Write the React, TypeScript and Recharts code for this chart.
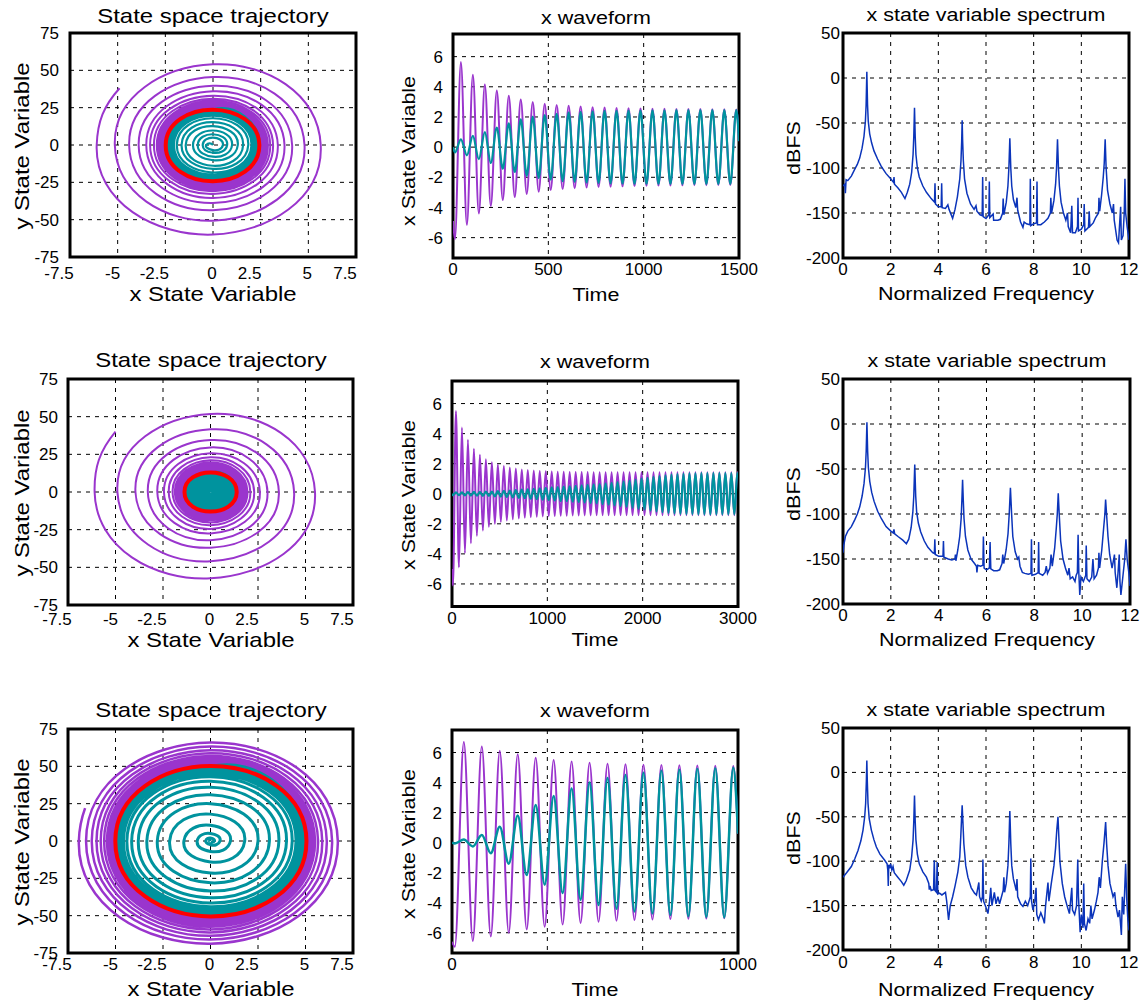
import React from 'react';
import { ComposedChart, Line, XAxis, YAxis, CartesianGrid, ReferenceArea } from 'recharts';

const FONT = '"Liberation Sans", Arial, Helvetica, sans-serif';
const PURPLE = '#9A35CD';
const TEAL = '#00939E';
const RED = '#FF0000';
const BLUE = '#0B34BA';

// one cycle is ~62.8 time units, so extremes come every 31.4
const HALF_PERIOD = 31.4;
const FIRST_EXTREME = 10;

// ---- axis ticks ----
const phaseXTicks = [-7.5, -5, -2.5, 0, 2.5, 5, 7.5];
const phaseYTicks = [-75, -50, -25, 0, 25, 50, 75];
const waveYTicks = [-6, -4, -2, 0, 2, 4, 6];
const wave1Ticks = [0, 500, 1000, 1500];
const wave2Ticks = [0, 1000, 2000, 3000];
const wave3Ticks = [0, 1000 / 3, 2000 / 3, 1000];
const specXTicks = [0, 2, 4, 6, 8, 10, 12];
const specYTicks = [-200, -150, -100, -50, 0, 50];

// ---- row 1: x extremes (trough, peak, ...) and matching y extremes ----
const r1PurpleStart = [-4.9, 38];
const r1PurpleX = [
  -6.1, 5.65, -5.15, 4.8, -4.4, 4.15, -3.9, 3.75, -3.5, 3.4, -3.3, 3.15, -3.1, 3.0, -2.95, 2.88,
  -2.85, 2.8, -2.78, 2.74, -2.72, 2.69, -2.68, 2.65, -2.64, 2.62, -2.62, 2.6, -2.6, 2.58, -2.58, 2.56,
  -2.56, 2.55, -2.55, 2.54, -2.54, 2.53, -2.53, 2.52, -2.52, 2.52, -2.52, 2.51, -2.51, 2.51, -2.51, 2.5,
];
const r1PurpleY = [
  -60, 54, -50.7, 45.5, -43.7, 39.7, -38.8, 36, -35.5, 33, -32.8, 31, -31, 29.6, -29.8, 28.6,
  -29, 28, -28.4, 27.5, -27.9, 27.1, -27.5, 26.8, -27.2, 26.5, -26.9, 26.3, -26.7, 26.1, -26.5, 25.9,
  -26.3, 25.7, -26.1, 25.6, -26, 25.5, -25.9, 25.4, -25.8, 25.3, -25.7, 25.2, -25.6, 25.2, -25.5, 25.1,
];
const r1TealX = [
  -0.35, 0.52, -0.54, 0.74, -0.8, 1.0, -1.05, 1.3, -1.43, 1.58, -1.65, 1.85, -1.9, 2.02, -2.05, 2.12,
  -2.15, 2.2, -2.25, 2.3, -2.3, 2.34, -2.35, 2.37, -2.38, 2.4, -2.4, 2.41, -2.42, 2.42, -2.43, 2.43,
  -2.43, 2.44, -2.44, 2.44, -2.44, 2.45, -2.45, 2.45, -2.45, 2.45, -2.45, 2.45, -2.45, 2.45, -2.45, 2.45,
];
const r1TealY = [
  -3.4, 5.0, -5.2, 7.2, -7.8, 9.7, -10.2, 12.6, -13.9, 15.3, -16.0, 17.9, -18.4, 19.6, -19.9, 20.6,
  -20.9, 21.3, -21.8, 22.3, -22.3, 22.7, -22.8, 23.0, -23.1, 23.3, -23.3, 23.4, -23.5, 23.5, -23.6, 23.6,
  -23.6, 23.7, -23.7, 23.7, -23.7, 23.8, -23.8, 23.8, -23.8, 23.8, -23.8, 23.8, -23.8, 23.8, -23.8, 23.8,
];
const r1Limit = [2.43, 23.6, -2.48, -24.3]; // right, top, left, bottom
const r1WaveEnds = [0.4, 0.4]; // purple, teal at t = 1500

// ---- row 2 ----
const r2PurpleStart = [-5.0, 40];
const r2PurpleX = [
  -6.1, 5.5, -4.9, 4.4, -3.95, 3.6, -3.3, 3.0, -2.8, 2.6, -2.45, 2.3, -2.2, 2.1, -2.0, 1.95,
  -1.88, 1.85, -1.78, 1.75, -1.7, 1.68, -1.64, 1.62, -1.6, 1.58, -1.56, 1.55, -1.53, 1.52, -1.51, 1.5,
  -1.49, 1.48, -1.48, 1.47, -1.47, 1.46, -1.46, 1.45, -1.45, 1.45, -1.45, 1.44, -1.44, 1.44, -1.44, 1.43,
  -1.43, 1.43, -1.43, 1.43, -1.43, 1.43, -1.43, 1.43, -1.43, 1.43, -1.43, 1.43, -1.43, 1.43, -1.43, 1.43,
  -1.43, 1.43, -1.43, 1.43, -1.43, 1.43, -1.43, 1.43, -1.43, 1.43, -1.43, 1.43, -1.43, 1.43, -1.43, 1.43,
  -1.43, 1.43, -1.43, 1.43, -1.43, 1.43, -1.43, 1.43, -1.43, 1.43, -1.43, 1.43, -1.43, 1.43, -1.43, 1.43,
];
const r2PurpleY = [
  -57.3, 51.8, -46, 41.6, -37, 34.5, -32, 29.6, -27.5, 25.7, -24.5, 23, -22, 21, -20.2, 19.5,
  -18.8, 18.2, -17.6, 17.2, -16.8, 16.4, -16.1, 15.8, -15.6, 15.4, -15.2, 15, -14.9, 14.8, -14.7, 14.6,
  -14.5, 14.4, -14.4, 14.3, -14.3, 14.2, -14.2, 14.1, -14.1, 14.1, -14.1, 14, -14, 14, -14, 14,
  -14, 14, -14, 14, -14, 14, -14, 14, -14, 14, -14, 14, -14, 14, -14, 14,
  -14, 14, -14, 14, -14, 14, -14, 14, -14, 14, -14, 14, -14, 14, -14, 14,
  -14, 14, -14, 14, -14, 14, -14, 14, -14, 14, -14, 14, -14, 14, -14, 14,
];
// teal grows slowly: one x amplitude and one y amplitude per cycle
const r2TealAmpX = [
  0.1, 0.1, 0.11, 0.12, 0.13, 0.14, 0.15, 0.17, 0.19, 0.21,
  0.24, 0.27, 0.3, 0.33, 0.36, 0.39, 0.42, 0.45, 0.48, 0.5,
  0.53, 0.56, 0.59, 0.62, 0.65, 0.69, 0.73, 0.78, 0.83, 0.88,
  0.94, 1.0, 1.06, 1.12, 1.18, 1.23, 1.28, 1.31, 1.33, 1.35,
  1.36, 1.37, 1.37, 1.37, 1.37, 1.37, 1.37, 1.37,
];
const r2TealAmpY = [
  0.94, 0.94, 1.03, 1.13, 1.22, 1.32, 1.41, 1.6, 1.79, 1.97,
  2.26, 2.54, 2.82, 3.1, 3.38, 3.67, 3.95, 4.23, 4.51, 4.7,
  4.98, 5.26, 5.55, 5.83, 6.11, 6.49, 6.86, 7.33, 7.8, 8.27,
  8.84, 9.4, 9.96, 10.5, 11.1, 11.6, 12.0, 12.3, 12.5, 12.7,
  12.8, 12.9, 12.9, 12.9, 12.9, 12.9, 12.9, 12.9,
];
const r2Limit = [1.38, 13, -1.37, -13];
const r2WaveEnds = [1.1, 1.1];

// ---- row 3 ----
const r3PurpleStart = [-6.6, 22];
const r3PurpleX = [
  -6.93, 6.7, -6.55, 6.4, -6.25, 6.12, -6.0, 5.88, -5.78, 5.66, -5.6, 5.5, -5.45, 5.4, -5.35, 5.32,
  -5.27, 5.26, -5.2, 5.22, -5.15, 5.19, -5.12, 5.17, -5.09, 5.15, -5.07, 5.13, -5.05, 5.12, -5.04, 5.11,
];
const r3PurpleY = [
  -68.8, 65.9, -66, 63.2, -63.5, 60.8, -61.2, 58.8, -59.2, 57, -57.5, 55.6, -56.2, 54.6, -55.2, 53.8,
  -54.3, 53.2, -53.6, 52.7, -53.1, 52.3, -52.7, 52.0, -52.4, 51.8, -52.2, 51.6, -52.0, 51.5, -51.9, 51.4,
];
const r3TealX = [
  -0.05, 0.2, -0.25, 0.5, -0.7, 1.05, -1.4, 1.8, -2.15, 2.5, -2.8, 3.1, -3.35, 3.6, -3.8, 4.0,
  -4.15, 4.3, -4.4, 4.5, -4.58, 4.65, -4.72, 4.78, -4.82, 4.86, -4.9, 4.92, -4.95, 4.96, -4.98, 4.98,
];
const r3TealY = [
  -0.5, 2, -2.5, 5, -7, 10.5, -14, 18, -21.5, 25, -28, 31, -33.5, 36, -38, 40,
  -41.5, 43, -44, 45, -45.8, 46.5, -47.2, 47.8, -48.2, 48.6, -49, 49.2, -49.5, 49.6, -49.8, 49.8,
];
const r3Limit = [5.05, 50.3, -5.01, -50.5];
const r3WaveEnds = [0.6, 0.6];

// ---- spectra: [normalized frequency, dBFS] ----
const spec1 = [
  [0, -120], [0.08, -118], [0.1, -128], [0.13, -113], [0.2, -114], [0.35, -109], [0.5, -101], [0.6, -96],
  [0.7, -89], [0.8, -78], [0.88, -65], [0.94, -48], [0.97, -30], [1.0, 7], [1.03, -30], [1.06, -48],
  [1.12, -62], [1.2, -72], [1.3, -81], [1.45, -90], [1.6, -98], [1.8, -106], [2.0, -112], [2.12, -116],
  [2.14, -110], [2.16, -118], [2.3, -122], [2.45, -127], [2.6, -134], [2.7, -127], [2.8, -118], [2.88, -105],
  [2.94, -85], [2.97, -65], [3.0, -33], [3.03, -65], [3.06, -85], [3.12, -100], [3.2, -110], [3.35, -120],
  [3.5, -127], [3.7, -134], [3.84, -138], [3.86, -117], [3.88, -140], [4.0, -143], [4.12, -143], [4.14, -117],
  [4.16, -144], [4.3, -145], [4.4, -141], [4.45, -146], [4.6, -156], [4.7, -146], [4.8, -132], [4.9, -112],
  [4.95, -92], [4.98, -70], [5.0, -47], [5.02, -70], [5.05, -92], [5.1, -112], [5.2, -128], [5.35, -140],
  [5.5, -146], [5.58, -142], [5.62, -148], [5.75, -152], [5.84, -153], [5.86, -110], [5.88, -154], [6.0, -156],
  [6.12, -152], [6.14, -115], [6.16, -155], [6.3, -151], [6.32, -158], [6.5, -158], [6.6, -157], [6.7, -150],
  [6.72, -134], [6.75, -152], [6.85, -138], [6.92, -120], [6.96, -100], [7.0, -67], [7.04, -100], [7.08, -120],
  [7.15, -135], [7.25, -144], [7.3, -133], [7.33, -147], [7.45, -160], [7.55, -166], [7.6, -160], [7.7, -162],
  [7.84, -163], [7.86, -112], [7.88, -164], [8.0, -162], [8.12, -161], [8.14, -115], [8.16, -163], [8.3, -163],
  [8.45, -160], [8.6, -156], [8.7, -150], [8.72, -133], [8.75, -150], [8.85, -136], [8.92, -118], [8.96, -100],
  [9.0, -68], [9.04, -100], [9.08, -120], [9.15, -138], [9.25, -150], [9.35, -158], [9.42, -150], [9.45, -165],
  [9.55, -172], [9.6, -142], [9.63, -172], [9.75, -172], [9.84, -165], [9.86, -133], [9.88, -170], [10.0, -168],
  [10.1, -163], [10.12, -140], [10.15, -170], [10.3, -166], [10.33, -148], [10.36, -165], [10.5, -161], [10.6, -155],
  [10.72, -150], [10.74, -133], [10.77, -148], [10.85, -130], [10.92, -110], [10.96, -95], [11.0, -68], [11.04, -100],
  [11.1, -125], [11.2, -140], [11.3, -150], [11.35, -140], [11.38, -158], [11.5, -180], [11.56, -183], [11.6, -165],
  [11.65, -143], [11.68, -180], [11.75, -175], [11.8, -150], [11.83, -112], [11.86, -150], [11.92, -165], [12.0, -180],
];
const spec2 = [
  [0, -143], [0.03, -135], [0.1, -125], [0.2, -119], [0.35, -114], [0.5, -106], [0.6, -100], [0.7, -92],
  [0.8, -80], [0.88, -66], [0.94, -48], [0.97, -30], [1.0, 2], [1.03, -30], [1.06, -48], [1.12, -64],
  [1.2, -76], [1.3, -86], [1.45, -97], [1.6, -105], [1.8, -114], [2.0, -119], [2.1, -121], [2.13, -117],
  [2.16, -122], [2.3, -125], [2.5, -129], [2.65, -133], [2.75, -128], [2.85, -115], [2.92, -98], [2.96, -80],
  [3.0, -45], [3.04, -80], [3.08, -98], [3.15, -110], [3.25, -120], [3.4, -130], [3.55, -137], [3.75, -143],
  [3.82, -144], [3.84, -128], [3.86, -145], [4.0, -147], [4.18, -147], [4.2, -130], [4.22, -148], [4.4, -150],
  [4.55, -151], [4.68, -150], [4.7, -145], [4.72, -152], [4.8, -140], [4.88, -125], [4.94, -105], [4.97, -85],
  [5.0, -62], [5.03, -85], [5.06, -105], [5.12, -125], [5.22, -140], [5.35, -150], [5.5, -155], [5.58, -158],
  [5.6, -165], [5.63, -157], [5.75, -158], [5.85, -157], [5.87, -125], [5.9, -160], [6.0, -162], [6.12, -160],
  [6.15, -131], [6.18, -161], [6.3, -163], [6.45, -163], [6.55, -162], [6.65, -155], [6.68, -145], [6.72, -155],
  [6.82, -140], [6.9, -122], [6.95, -100], [7.0, -71], [7.05, -100], [7.1, -125], [7.2, -142], [7.3, -150],
  [7.35, -148], [7.4, -158], [7.5, -165], [7.6, -166], [7.75, -167], [7.86, -166], [7.88, -128], [7.9, -168],
  [8.05, -167], [8.16, -165], [8.18, -131], [8.2, -166], [8.35, -168], [8.45, -165], [8.5, -158], [8.55, -166],
  [8.65, -160], [8.7, -145], [8.75, -158], [8.85, -138], [8.92, -115], [8.96, -100], [9.0, -77], [9.04, -100],
  [9.1, -130], [9.2, -150], [9.3, -160], [9.4, -168], [9.45, -160], [9.5, -172], [9.6, -170], [9.7, -175],
  [9.75, -168], [9.8, -165], [9.83, -123], [9.86, -165], [9.9, -190], [9.95, -170], [10.05, -175], [10.15, -168],
  [10.17, -135], [10.2, -172], [10.3, -175], [10.4, -170], [10.45, -150], [10.5, -172], [10.6, -168], [10.68, -160],
  [10.7, -143], [10.73, -160], [10.82, -140], [10.9, -115], [10.95, -100], [10.98, -84], [11.02, -100], [11.08, -125],
  [11.15, -145], [11.25, -160], [11.32, -150], [11.35, -145], [11.38, -165], [11.45, -182], [11.5, -165], [11.55, -145],
  [11.58, -175], [11.62, -190], [11.7, -170], [11.78, -150], [11.83, -128], [11.88, -150], [11.95, -165], [12.0, -180],
];
const spec3 = [
  [0, -118], [0.15, -113], [0.35, -106], [0.5, -97], [0.63, -88], [0.75, -77], [0.84, -65], [0.91, -50],
  [0.95, -35], [0.98, -10], [1.0, 13.5], [1.02, -10], [1.05, -35], [1.1, -52], [1.19, -65], [1.3, -76],
  [1.4, -84], [1.55, -92], [1.75, -99], [1.85, -103], [1.88, -110], [1.9, -128], [1.92, -104], [1.96, -108],
  [2.0, -103], [2.05, -110], [2.1, -106], [2.15, -113], [2.3, -118], [2.45, -123], [2.55, -127], [2.65, -122],
  [2.8, -110], [2.88, -95], [2.94, -76], [2.97, -55], [3.0, -26], [3.03, -55], [3.06, -76], [3.12, -92],
  [3.2, -103], [3.35, -112], [3.5, -118], [3.6, -125], [3.62, -132], [3.65, -128], [3.7, -133], [3.8, -132],
  [3.83, -99], [3.86, -133], [3.92, -135], [3.95, -101], [3.98, -137], [4.05, -136], [4.15, -138], [4.3, -135],
  [4.35, -145], [4.43, -166], [4.5, -150], [4.6, -140], [4.7, -128], [4.82, -112], [4.9, -95], [4.94, -73],
  [4.97, -55], [5.0, -37], [5.03, -55], [5.07, -80], [5.15, -105], [5.24, -118], [5.38, -130], [5.52, -136],
  [5.6, -138], [5.7, -124], [5.73, -140], [5.8, -145], [5.85, -140], [5.87, -98], [5.9, -145], [6.0, -152],
  [6.08, -159], [6.15, -145], [6.2, -130], [6.25, -150], [6.35, -135], [6.42, -148], [6.5, -140], [6.57, -148],
  [6.65, -140], [6.72, -133], [6.75, -118], [6.78, -135], [6.85, -125], [6.92, -105], [6.96, -80], [7.0, -43.5],
  [7.04, -80], [7.08, -105], [7.15, -120], [7.27, -133], [7.3, -120], [7.33, -140], [7.45, -148], [7.55, -151],
  [7.65, -145], [7.75, -150], [7.86, -140], [7.88, -97], [7.91, -145], [7.97, -155], [8.05, -145], [8.1, -130],
  [8.13, -160], [8.2, -166], [8.3, -158], [8.4, -165], [8.45, -170], [8.5, -150], [8.6, -124], [8.64, -145],
  [8.74, -125], [8.85, -105], [8.92, -85], [8.97, -65], [9.02, -50], [9.06, -75], [9.1, -100], [9.2, -125],
  [9.3, -140], [9.4, -150], [9.5, -159], [9.6, -130], [9.63, -155], [9.72, -160], [9.8, -150], [9.85, -98],
  [9.88, -140], [9.95, -180], [10.0, -160], [10.07, -175], [10.1, -125], [10.13, -170], [10.2, -178], [10.28, -165],
  [10.35, -170], [10.4, -150], [10.45, -165], [10.55, -155], [10.63, -145], [10.7, -135], [10.75, -118], [10.8, -130],
  [10.88, -100], [10.95, -80], [11.02, -56], [11.06, -80], [11.12, -105], [11.2, -125], [11.33, -140], [11.4, -135],
  [11.45, -150], [11.54, -163], [11.6, -155], [11.68, -183], [11.72, -140], [11.78, -160], [11.86, -103], [11.9, -140],
  [11.95, -165], [12.0, -178],
];

type Pt = { x: number; y: number };
type Box = [number, number, number, number];

const toPts = (pairs: number[][]): Pt[] => pairs.map(([x, y]) => ({ x, y }));
const mirror = (amps: number[]) => amps.flatMap((a) => [-a, a]);

// phase portrait: x extreme on the y = 0 line, then y extreme on x = 0, turn after turn
function spiral(start: number[], xs: number[], ys: number[]): Pt[] {
  const pts: Pt[] = [{ x: start[0], y: start[1] }];
  xs.forEach((x, k) => {
    pts.push({ x, y: 0 });
    pts.push({ x: 0, y: ys[k] });
  });
  return pts;
}

function limitCycle([right, top, left, bottom]: number[]): Pt[] {
  return [{ x: right, y: 0 }, { x: 0, y: top }, { x: left, y: 0 }, { x: 0, y: bottom }];
}

function wave(start: number, xs: number[], end: number, tEnd: number): Pt[] {
  return [
    { x: 0, y: start },
    ...xs.map((v, k) => ({ x: FIRST_EXTREME + k * HALF_PERIOD, y: v })),
    { x: tEnd, y: end },
  ];
}

// smooth curve through quarter-turn points (Bessel tangents, bezier handles),
// so each quarter comes out as a proper elliptic arc
const HANDLE = 0.39;
function orbitCurve(closed: boolean) {
  return (context: any) => {
    let pts: number[][] = [];
    const get = (i: number) => {
      const n = pts.length;
      return closed ? pts[((i % n) + n) % n] : pts[Math.max(0, Math.min(n - 1, i))];
    };
    const dist = (a: number[], b: number[]) => Math.hypot(b[0] - a[0], b[1] - a[1]);
    const unit = (a: number[], b: number[]) => {
      const d = dist(a, b) || 1;
      return [(b[0] - a[0]) / d, (b[1] - a[1]) / d];
    };
    const inner = (i: number) => {
      const p0 = get(i - 1);
      const p1 = get(i);
      const p2 = get(i + 1);
      const d0 = dist(p0, p1);
      const d1 = dist(p1, p2);
      const u0 = unit(p0, p1);
      const u1 = unit(p1, p2);
      const tx = u0[0] * d1 + u1[0] * d0;
      const ty = u0[1] * d1 + u1[1] * d0;
      const m = Math.hypot(tx, ty) || 1;
      return [tx / m, ty / m];
    };
    // open ends: mirror the neighbour's tangent about the chord, as on a circular arc
    const reflect = (t: number[], c: number[]) => {
      const k = 2 * (t[0] * c[0] + t[1] * c[1]);
      return [k * c[0] - t[0], k * c[1] - t[1]];
    };
    const tangent = (i: number) => {
      const n = pts.length;
      if (closed || n < 3 || (i > 0 && i < n - 1)) return inner(i);
      if (i === 0) return reflect(inner(1), unit(pts[0], pts[1]));
      return reflect(inner(n - 2), unit(pts[n - 2], pts[n - 1]));
    };
    return {
      areaStart() {},
      areaEnd() {},
      lineStart() {
        pts = [];
      },
      point(x: number, y: number) {
        pts.push([+x, +y]);
      },
      lineEnd() {
        const n = pts.length;
        if (!n) return;
        context.moveTo(pts[0][0], pts[0][1]);
        const segs = closed ? n : n - 1;
        for (let i = 0; i < segs; i++) {
          const a = get(i);
          const b = get(i + 1);
          const d = dist(a, b) * HANDLE;
          const ta = tangent(i);
          const tb = tangent(closed ? (i + 1) % n : i + 1);
          context.bezierCurveTo(a[0] + ta[0] * d, a[1] + ta[1] * d, b[0] - tb[0] * d, b[1] - tb[1] * d, b[0], b[1]);
        }
        if (closed) context.closePath();
      },
    };
  };
}
const OPEN_ORBIT = orbitCurve(false);
const CLOSED_ORBIT = orbitCurve(true);

const AXIS_W = 70;
const AXIS_H = 30;
const TOP = 14;
const RIGHT = 28;
const TICK = { fontSize: 17, fill: '#000', fontFamily: FONT };

// the state-space x labels sit a little left of their grid lines in the original
function PhaseTick(props: any) {
  const { x, y, payload } = props;
  const v = payload.value as number;
  const shift = Number.isInteger(v) ? (v < 0 ? -5 : -1) : -11;
  return (
    <text x={x + shift} y={y} dy="0.71em" textAnchor="middle" fontSize={17} fill="#000" fontFamily={FONT}>
      {String(v)}
    </text>
  );
}

interface PanelProps {
  box: Box;
  xDomain: [number, number];
  yDomain: [number, number];
  xTicks: number[];
  yTicks: number[];
  xFmt?: (v: number) => string;
  xTick?: any;
  xGap: number;
  yGap: number;
  children: React.ReactNode;
}

function Panel({ box, xDomain, yDomain, xTicks, yTicks, xFmt, xTick, xGap, yGap, children }: PanelProps) {
  const [l, t, r, b] = box;
  const w = r - l;
  const h = b - t;
  return (
    <div style={{ position: 'absolute', left: l - AXIS_W, top: t - TOP }}>
      <ComposedChart
        width={AXIS_W + w + RIGHT}
        height={TOP + h + AXIS_H}
        margin={{ top: TOP, right: RIGHT, bottom: 0, left: 0 }}
      >
        <CartesianGrid stroke="#000" strokeDasharray="4 5" strokeWidth={1} />
        <XAxis
          type="number"
          dataKey="x"
          domain={xDomain}
          ticks={xTicks}
          interval={0}
          allowDataOverflow
          axisLine={false}
          tickLine={false}
          tickSize={0}
          tickMargin={xGap}
          tick={xTick ?? TICK}
          tickFormatter={xFmt}
          height={AXIS_H}
        />
        <YAxis
          type="number"
          dataKey="y"
          domain={yDomain}
          ticks={yTicks}
          interval={0}
          allowDataOverflow
          axisLine={false}
          tickLine={false}
          tickSize={0}
          tickMargin={yGap}
          tick={TICK}
          width={AXIS_W}
        />
        {children}
        <ReferenceArea
          x1={xDomain[0]}
          x2={xDomain[1]}
          y1={yDomain[0]}
          y2={yDomain[1]}
          fill="none"
          stroke="#000"
          strokeWidth={3}
          ifOverflow="visible"
        />
      </ComposedChart>
    </div>
  );
}

function curve(key: string, data: Pt[], color: string, width: number, type: any) {
  return (
    <Line
      key={key}
      data={data}
      dataKey="y"
      type={type}
      stroke={color}
      strokeWidth={width}
      dot={false}
      activeDot={false}
      isAnimationActive={false}
    />
  );
}

interface CaptionProps {
  x: number;
  y: number;
  text: string;
  big?: boolean;
  vertical?: boolean;
}

function Caption({ x, y, text, big, vertical }: CaptionProps) {
  const size = big ? 21 : 18.7;
  const stretch = big ? 1.14 : 1.15;
  return (
    <div
      style={{
        position: 'absolute',
        left: x,
        top: y,
        transform: `translate(-50%, -50%)${vertical ? ' rotate(-90deg)' : ''} scaleX(${stretch})`,
        fontSize: size,
        lineHeight: 1,
        whiteSpace: 'nowrap',
        fontFamily: FONT,
        color: '#000',
      }}
    >
      {text}
    </div>
  );
}

const wave3Fmt = (v: number) => (v === 0 || v === 1000 ? String(v) : '');

export default function App() {
  const r1Purple = spiral(r1PurpleStart, r1PurpleX, r1PurpleY);
  const r1Teal = spiral([0, 0], r1TealX, r1TealY);
  const r2Purple = spiral(r2PurpleStart, r2PurpleX, r2PurpleY);
  const r2Teal = spiral([0, 0], mirror(r2TealAmpX), mirror(r2TealAmpY));
  const r3Purple = spiral(r3PurpleStart, r3PurpleX, r3PurpleY);
  const r3Teal = spiral([0, 0], r3TealX, r3TealY);
  const phaseTick = <PhaseTick />;

  return (
    <div
      style={{
        position: 'absolute',
        left: 0,
        top: 0,
        width: 1148,
        height: 1006,
        background: '#fff',
        fontFamily: FONT,
        overflow: 'hidden',
      }}
    >
      {/* row 1 */}
      <Panel box={[70, 33, 356, 257]} xDomain={[-7.5, 7.5]} yDomain={[-75, 75]} xTicks={phaseXTicks} yTicks={phaseYTicks} xTick={phaseTick} xGap={10} yGap={11}>
        {[
          curve('p', r1Purple, PURPLE, 2, OPEN_ORBIT),
          curve('t', r1Teal, TEAL, 2.2, OPEN_ORBIT),
          curve('r', limitCycle(r1Limit), RED, 4, CLOSED_ORBIT),
        ]}
      </Panel>
      <Panel box={[453, 34, 739, 258]} xDomain={[0, 1500]} yDomain={[-7.35, 7.5]} xTicks={wave1Ticks} yTicks={waveYTicks} xGap={5} yGap={10}>
        {[
          curve('p', wave(r1PurpleStart[0], r1PurpleX, r1WaveEnds[0], 1500), PURPLE, 2, 'monotone'),
          curve('t', wave(0, r1TealX, r1WaveEnds[1], 1500), TEAL, 2.2, 'monotone'),
        ]}
      </Panel>
      <Panel box={[843, 33, 1129, 258]} xDomain={[0, 12]} yDomain={[-200, 50]} xTicks={specXTicks} yTicks={specYTicks} xGap={5} yGap={3}>
        {[curve('s', toPts(spec1), BLUE, 1.5, 'linear')]}
      </Panel>

      {/* row 2 */}
      <Panel box={[68, 379, 353, 605]} xDomain={[-7.5, 7.5]} yDomain={[-75, 75]} xTicks={phaseXTicks} yTicks={phaseYTicks} xTick={phaseTick} xGap={8} yGap={10}>
        {[
          curve('p', r2Purple, PURPLE, 2, OPEN_ORBIT),
          curve('t', r2Teal, TEAL, 2.2, OPEN_ORBIT),
          curve('r', limitCycle(r2Limit), RED, 4, CLOSED_ORBIT),
        ]}
      </Panel>
      <Panel box={[452, 380.5, 738, 606]} xDomain={[0, 3000]} yDomain={[-7.5, 7.5]} xTicks={wave2Ticks} yTicks={waveYTicks} xGap={5} yGap={10}>
        {[
          curve('p', wave(r2PurpleStart[0], r2PurpleX, r2WaveEnds[0], 3000), PURPLE, 2, 'monotone'),
          curve('t', wave(0, mirror(r2TealAmpX), r2WaveEnds[1], 3000), TEAL, 2.2, 'monotone'),
        ]}
      </Panel>
      <Panel box={[843, 379, 1130, 604]} xDomain={[0, 12]} yDomain={[-200, 50]} xTicks={specXTicks} yTicks={specYTicks} xGap={5} yGap={3}>
        {[curve('s', toPts(spec2), BLUE, 1.5, 'linear')]}
      </Panel>

      {/* row 3 */}
      <Panel box={[68, 729, 353, 953]} xDomain={[-7.5, 7.5]} yDomain={[-75, 75]} xTicks={phaseXTicks} yTicks={phaseYTicks} xTick={phaseTick} xGap={5} yGap={10}>
        {[
          curve('p', r3Purple, PURPLE, 2.5, OPEN_ORBIT),
          curve('t', r3Teal, TEAL, 3, OPEN_ORBIT),
          curve('r', limitCycle(r3Limit), RED, 4, CLOSED_ORBIT),
        ]}
      </Panel>
      <Panel box={[452, 730, 738, 953]} xDomain={[0, 1000]} yDomain={[-7.35, 7.5]} xTicks={wave3Ticks} yTicks={waveYTicks} xFmt={wave3Fmt} xGap={5} yGap={10}>
        {[
          curve('p', wave(r3PurpleStart[0], r3PurpleX, r3WaveEnds[0], 1000), PURPLE, 2, 'monotone'),
          curve('t', wave(0, r3TealX, r3WaveEnds[1], 1000), TEAL, 2.5, 'monotone'),
        ]}
      </Panel>
      <Panel box={[843, 728, 1129, 950]} xDomain={[0, 12]} yDomain={[-200, 50]} xTicks={specXTicks} yTicks={specYTicks} xGap={6} yGap={3}>
        {[curve('s', toPts(spec3), BLUE, 1.5, 'linear')]}
      </Panel>

      {/* titles and axis labels */}
      <Caption x={213} y={14.5} text="State space trajectory" big />
      <Caption x={213} y={293} text="x State Variable" big />
      <Caption x={21} y={146} text="y State Variable" big vertical />
      <Caption x={596} y={17.5} text="x waveform" />
      <Caption x={596} y={295} text="Time" />
      <Caption x={409} y={151} text="x State Variable" vertical />
      <Caption x={986} y={15} text="x state variable spectrum" />
      <Caption x={986} y={294} text="Normalized Frequency" />
      <Caption x={793.5} y={148} text="dBFS" vertical />

      <Caption x={210.5} y={359} text="State space trajectory" big />
      <Caption x={210.5} y={638.7} text="x State Variable" big />
      <Caption x={21} y={493} text="y State Variable" big vertical />
      <Caption x={595} y={361.7} text="x waveform" />
      <Caption x={595} y={640.3} text="Time" />
      <Caption x={409} y={495} text="x State Variable" vertical />
      <Caption x={986.5} y={361} text="x state variable spectrum" />
      <Caption x={986.5} y={640} text="Normalized Frequency" />
      <Caption x={793.5} y={494} text="dBFS" vertical />

      <Caption x={210.5} y={709} text="State space trajectory" big />
      <Caption x={210.5} y={988} text="x State Variable" big />
      <Caption x={21} y={842} text="y State Variable" big vertical />
      <Caption x={595} y={711} text="x waveform" />
      <Caption x={595} y={989.7} text="Time" />
      <Caption x={409} y={844} text="x State Variable" vertical />
      <Caption x={986} y={709.5} text="x state variable spectrum" />
      <Caption x={986} y={990} text="Normalized Frequency" />
      <Caption x={793.5} y={838} text="dBFS" vertical />
    </div>
  );
}
